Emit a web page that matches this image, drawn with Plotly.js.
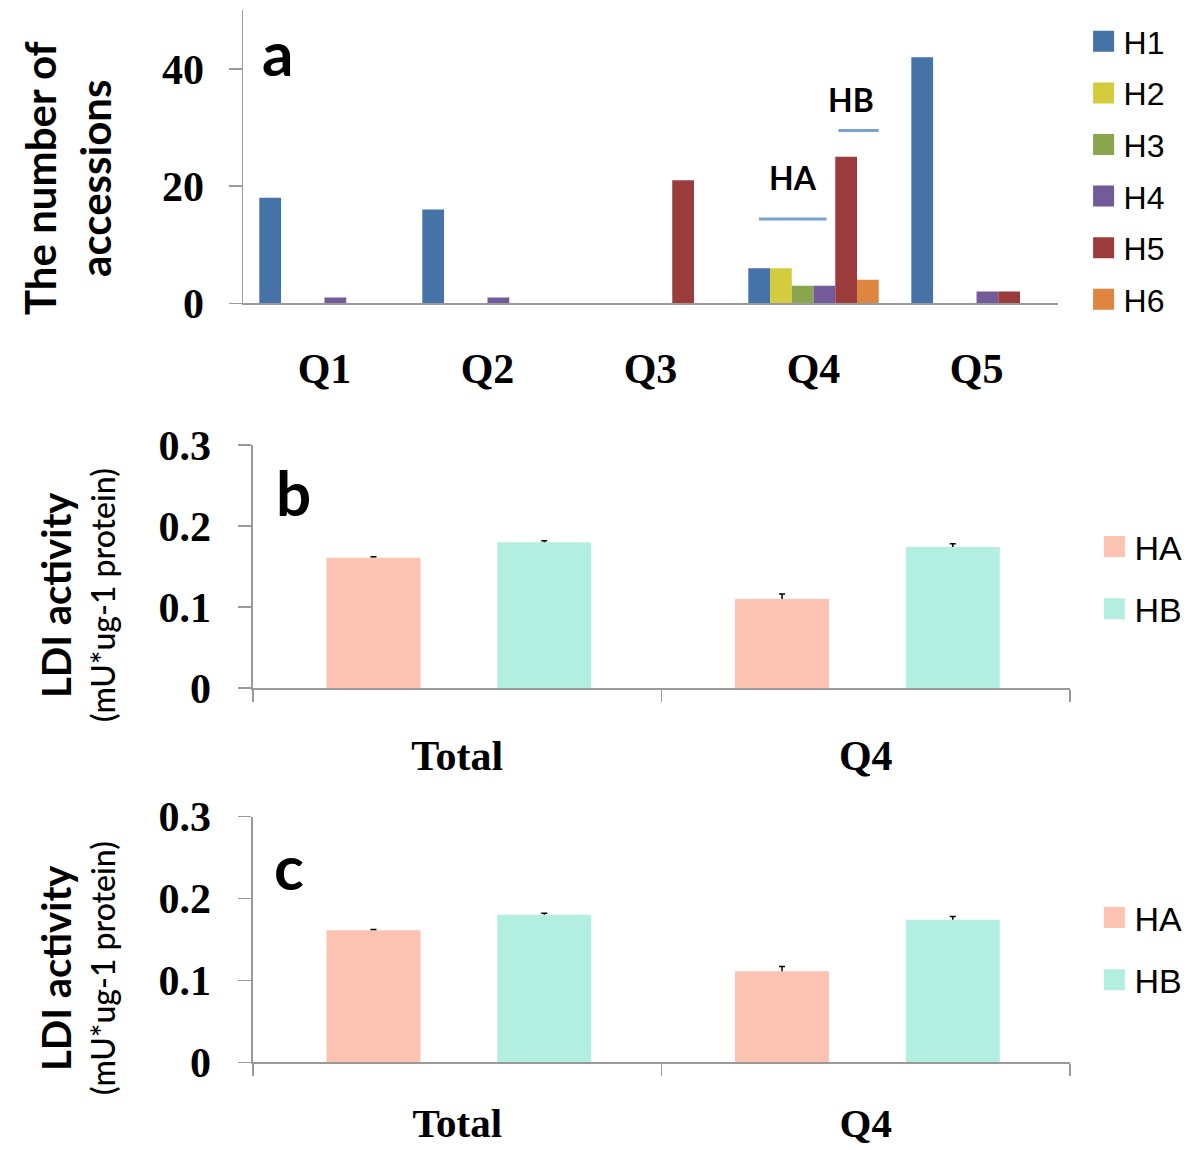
<!DOCTYPE html>
<html><head><meta charset="utf-8">
<script src="https://cdn.plot.ly/plotly-3.0.1.min.js"></script>
<style>html,body{margin:0;padding:0;background:#fff}</style>
</head><body><div id="chart" style="width:1200px;height:1150px"></div>
<script>
// ---- Panel a data ----
const quarters = ['Q1', 'Q2', 'Q3', 'Q4', 'Q5'];
const haplotypes = ['H1', 'H2', 'H3', 'H4', 'H5', 'H6'];
const H1 = [18, 16, 0, 6, 42];
const H2 = [0, 0, 0, 6, 0];
const H3 = [0, 0, 0, 3, 0];
const H4 = [1, 1, 0, 3, 2];
const H5 = [0, 0, 21, 25, 2];
const H6 = [0, 0, 0, 4, 0];
const hapColors = ['#4572A7', '#D2CC3E', '#89A54E', '#735A99', '#9B3B3B', '#DE853F'];

// ---- Panel b data ----
const groupsB = ['Total', 'Q4'];
const haB = [0.161, 0.110];
const haErrB = [0.001, 0.006];
const hbB = [0.180, 0.174];
const hbErrB = [0.002, 0.004];

// ---- Panel c data ----
const groupsC = ['Total', 'Q4'];
const haC = [0.161, 0.111];
const haErrC = [0.001, 0.006];
const hbC = [0.180, 0.174];
const hbErrC = [0.002, 0.004];

const hNames = ['HA', 'HB'];
const hColors = ['#FCC2B2', '#B3EFE0'];

const serif = 'Liberation Serif';
const sans = 'Liberation Sans';
const calib = 'Lato';
const axisGray = '#9a9a9a';

const hapSeries = [H1, H2, H3, H4, H5, H6];
const traces = [];
hapSeries.forEach((vals, i) => {
  traces.push({
    type: 'bar', x: quarters, y: vals, name: haplotypes[i],
    marker: {color: hapColors[i]}, xaxis: 'x', yaxis: 'y',
    legend: 'legend', legendgroup: haplotypes[i]
  });
});

function ldiTraces(groups, ha, haErr, hb, hbErr, xa, ya, leg) {
  const vals = [ha, hb], errs = [haErr, hbErr], offs = [-0.32, 0.098];
  return vals.map((v, i) => ({
    type: 'bar', x: groups, y: v, name: hNames[i],
    marker: {color: hColors[i]}, xaxis: xa, yaxis: ya,
    width: 0.23, offset: offs[i],
    legend: leg, legendgroup: leg + hNames[i],
    error_y: {type: 'data', array: errs[i], arrayminus: groups.map(() => 0),
              symmetric: false, color: '#000', thickness: 1.5, width: 3}
  }));
}
traces.push(...ldiTraces(groupsB, haB, haErrB, hbB, hbErrB, 'x2', 'y2', 'legend2'));
traces.push(...ldiTraces(groupsC, haC, haErrC, hbC, hbErrC, 'x3', 'y3', 'legend3'));

const tickSerif = {family: serif, size: 42, color: '#000', weight: 700};

function ldiX(domain, anchor, standoff, fsize) {
  return {domain: domain, anchor: anchor, type: 'category', showline: true, linecolor: axisGray,
    linewidth: 1.5, ticks: 'outside', tickson: 'boundaries', ticklen: 12, tickcolor: axisGray,
    tickwidth: 1.5, tickfont: Object.assign({}, tickSerif, {size: fsize}),
    ticklabelstandoff: standoff, showgrid: false, zeroline: false, fixedrange: true};
}
function ldiY(domain, anchor) {
  return {domain: domain, anchor: anchor, range: [0, 0.3], tickvals: [0, 0.1, 0.2, 0.3],
    ticktext: ['0', '0.1', '0.2', '0.3'], showline: true, linecolor: axisGray, linewidth: 1.5,
    ticks: 'outside', ticklen: 13, tickcolor: axisGray, tickwidth: 1.5, tickfont: tickSerif,
    ticklabelstandoff: 19, showgrid: false, zeroline: false, fixedrange: true};
}

const py = p => 1 - p / 1150;

function ldiTitle(cy) {
  return [
    {xref: 'paper', yref: 'paper', x: 56 / 1200, y: py(cy), xanchor: 'center', yanchor: 'middle',
     textangle: -90, showarrow: false, text: 'LDI activity',
     font: {family: calib, size: 40, color: '#000', weight: 700}},
    {xref: 'paper', yref: 'paper', x: 102 / 1200, y: py(cy), xanchor: 'center', yanchor: 'middle',
     textangle: -90, showarrow: false, text: '(mU*ug-1 protein)',
     font: {family: calib, size: 32, color: '#000', weight: 500}}
  ];
}

const layout = {
  width: 1200, height: 1150,
  margin: {l: 0, r: 0, t: 0, b: 0},
  paper_bgcolor: '#fff', plot_bgcolor: 'rgba(0,0,0,0)',
  barmode: 'group', bargap: 0.2, bargroupgap: 0,
  xaxis: {domain: [0.2025, 0.8817], anchor: 'y', type: 'category', showline: true,
    linecolor: axisGray, linewidth: 1.5, ticks: '', tickfont: tickSerif, ticklabelstandoff: 28,
    showgrid: false, zeroline: false, fixedrange: true},
  yaxis: {domain: [0.7363, 0.9909], anchor: 'x', range: [0, 50], tick0: 0, dtick: 20,
    showline: true, linecolor: axisGray, linewidth: 1.5, ticks: 'outside', ticklen: 13,
    tickcolor: axisGray, tickwidth: 1.5, tickfont: tickSerif, ticklabelstandoff: 16,
    showgrid: false, zeroline: false, fixedrange: true},
  xaxis2: ldiX([0.2108, 0.8917], 'y2', 30, 42),
  yaxis2: ldiY([0.4017, 0.6130], 'x2'),
  xaxis3: ldiX([0.2108, 0.8917], 'y3', 24, 41),
  yaxis3: ldiY([0.0763, 0.2900], 'x3'),
  showlegend: true,
  legend: {x: 0.903, xanchor: 'left', y: py(14), yanchor: 'top', bgcolor: 'rgba(0,0,0,0)',
    font: {family: sans, size: 32, color: '#000'}, tracegroupgap: 7, itemclick: false},
  legend2: {x: 0.912, xanchor: 'left', y: py(518), yanchor: 'top', bgcolor: 'rgba(0,0,0,0)',
    font: {family: sans, size: 34, color: '#000'}, tracegroupgap: 15, itemclick: false},
  legend3: {x: 0.912, xanchor: 'left', y: py(889), yanchor: 'top', bgcolor: 'rgba(0,0,0,0)',
    font: {family: sans, size: 34, color: '#000'}, tracegroupgap: 15, itemclick: false},
  annotations: [
    {xref: 'paper', yref: 'paper', x: 67 / 1200, y: py(178), xanchor: 'center', yanchor: 'middle',
     textangle: -90, showarrow: false, text: 'The number of<br>accessions',
     font: {family: calib, size: 42, color: '#000', weight: 700}},
    ...ldiTitle(595),
    ...ldiTitle(968),
    {xref: 'paper', yref: 'paper', x: 277 / 1200, y: py(52), xanchor: 'center', yanchor: 'middle',
     showarrow: false, text: 'a', font: {family: calib, size: 62, color: '#000', weight: 700}},
    {xref: 'paper', yref: 'paper', x: 293 / 1200, y: py(492), xanchor: 'center', yanchor: 'middle',
     showarrow: false, text: 'b', font: {family: calib, size: 62, color: '#000', weight: 700}},
    {xref: 'paper', yref: 'paper', x: 289 / 1200, y: py(866), xanchor: 'center', yanchor: 'middle',
     showarrow: false, text: 'c', font: {family: calib, size: 62, color: '#000', weight: 700}},
    {xref: 'x', yref: 'y', x: 2.874, y: 21.4, showarrow: false, text: 'HA',
     font: {family: calib, size: 32, color: '#000', weight: 700}},
    {xref: 'x', yref: 'y', x: 3.227, y: 34.8, showarrow: false, text: 'HB',
     font: {family: calib, size: 32, color: '#000', weight: 700}}
  ],
  shapes: [
    {type: 'line', xref: 'x', yref: 'y', x0: 2.666, x1: 3.08, y0: 14.4, y1: 14.4,
     line: {color: '#7BA2CF', width: 3}},
    {type: 'line', xref: 'x', yref: 'y', x0: 3.153, x1: 3.40, y0: 29.5, y1: 29.5,
     line: {color: '#7BA2CF', width: 3}}
  ]
};

Plotly.newPlot('chart', traces, layout, {displayModeBar: false, staticPlot: true}).then(() => {
  // enlarge legend swatches to match the reference's larger squares
  document.querySelectorAll('.legendpoints path').forEach(p => {
    const t = p.getAttribute('transform') || '';
    p.setAttribute('transform', t + ' scale(1.75)');
  });
  // plus-only error bars: drop the lower cap drawn at the bar top
  document.querySelectorAll('g.errorbar path').forEach(p => {
    const d = p.getAttribute('d') || '';
    p.setAttribute('d', d.replace(/m-[\d.]+,0h[\d.]+\s*$/, ''));
  });
});
</script>
</body></html>
